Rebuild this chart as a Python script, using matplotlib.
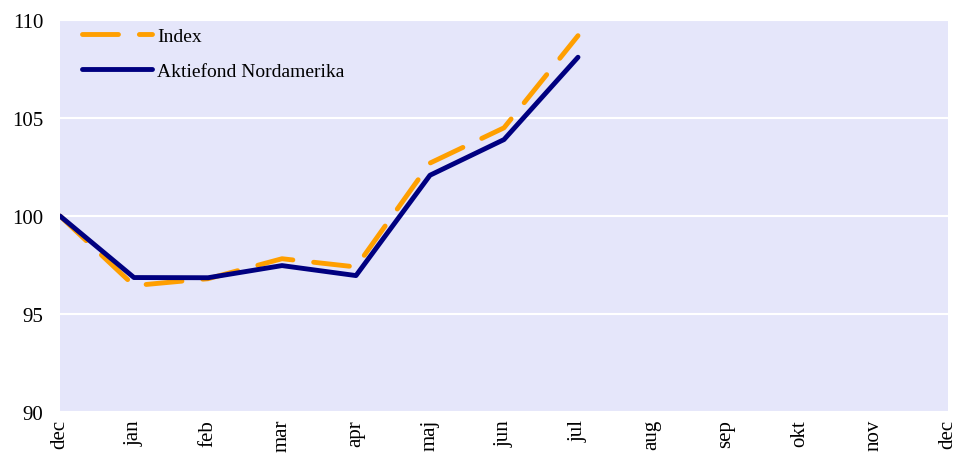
import matplotlib
matplotlib.use("Agg")
import matplotlib.pyplot as plt

months = ["dec", "jan", "feb", "mar", "apr", "maj", "jun", "jul",
          "aug", "sep", "okt", "nov", "dec"]
index_vals = [100.0, 96.45, 96.8, 97.82, 97.4, 102.7, 104.5, 109.2]
fond_vals = [100.0, 96.86, 96.85, 97.47, 96.96, 102.08, 103.9, 108.1]
yticks = [90, 95, 100, 105, 110]

plt.rcParams['font.family'] = ['Liberation Serif', 'DejaVu Serif']

fig = plt.figure(figsize=(9.57, 4.64), dpi=100)
ax = fig.add_axes([60 / 957, 1 - 413 / 464, 888 / 957, 392 / 464])
ax.set_facecolor('#E5E6FA')

x = list(range(len(months)))
ax.plot(x[:len(index_vals)], index_vals, color='#FF9F00', lw=3.5,
        dashes=(7.4, 4.3), dash_capstyle='round', label='Index')
ax.plot(x[:len(fond_vals)], fond_vals, color='#000080', lw=3.5,
        solid_capstyle='round', label='Aktiefond Nordamerika')

ax.set_xlim(0, len(months) - 1)
ax.set_ylim(90, 110)
ax.set_yticks(yticks)
ax.set_xticks(x)
ax.set_xticklabels(months, rotation=90, fontsize=15)
ax.tick_params(axis='y', labelsize=15, length=0, pad=12)
ax.tick_params(axis='x', length=0, pad=5)
ax.grid(axis='y', color='white', lw=1.5)
ax.set_axisbelow(True)
for s in ax.spines.values():
    s.set_visible(False)

ax.legend(loc='upper left', frameon=False, fontsize=14, handlelength=3.6,
          handletextpad=0.3, labelspacing=0.9, bbox_to_anchor=(0.009, 1.016),
          borderaxespad=0.3, borderpad=0.4)

fig.savefig('out.png', dpi=100)
